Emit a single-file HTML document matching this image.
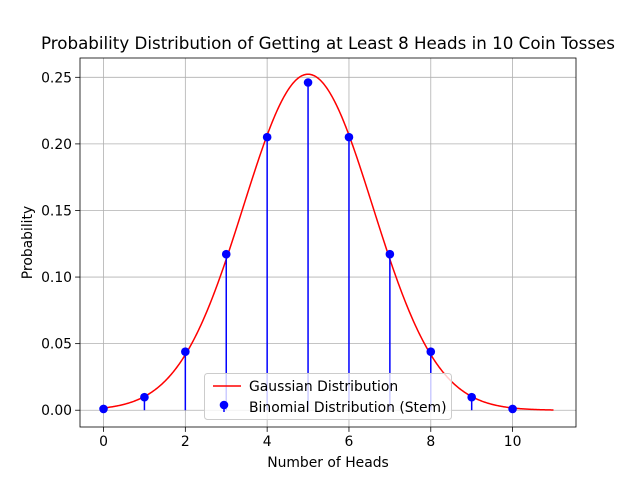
<!DOCTYPE html>
<html><head><meta charset="utf-8"><style>
body{margin:0;background:#fff}
svg{font-family:"DejaVu Sans","Liberation Sans",sans-serif}
</style></head><body>
<svg id="chart" width="640" height="480" viewBox="0 0 640 480">
<rect width="640" height="480" fill="#fff"/>
<g id="grid"></g><g id="series"></g><g id="axes"></g>
</svg>
<script>
const heads=[0,1,2,3,4,5,6,7,8,9,10];
const binomProb=[0.000977,0.009766,0.043945,0.117188,0.205078,0.246094,0.205078,0.117188,0.043945,0.009766,0.000977];
const gaussMean=5;
const gaussSigma=1.5811;
const xTicks=[0,2,4,6,8,10];
const yTicks=[0,0.05,0.10,0.15,0.20,0.25];
const yTickLabels=["0.00","0.05","0.10","0.15","0.20","0.25"];

const L=80,R=576,T=58,B=427;
const xMin=-0.575,xMax=11.55,yMin=-0.0126,yMax=0.2645;
const X=v=>L+(v-xMin)/(xMax-xMin)*(R-L);
const Y=v=>B-(v-yMin)/(yMax-yMin)*(B-T);
const NS="http://www.w3.org/2000/svg";
function mk(tag,attrs,parent,text){const e=document.createElementNS(NS,tag);for(const k in attrs)e.setAttribute(k,attrs[k]);if(text!==undefined)e.textContent=text;parent.appendChild(e);return e;}
const grid=document.getElementById('grid'),series=document.getElementById('series'),axes=document.getElementById('axes'),svg=document.getElementById('chart');

xTicks.forEach(t=>{
 const g=mk('line',{x1:X(t),x2:X(t),y1:T,y2:B,stroke:'#b0b0b0','stroke-width':0.8},grid);
 
 
 const tk=mk('line',{x1:X(t),x2:X(t),y1:B,y2:B+4.9,stroke:'#000','stroke-width':0.8},axes);
 
 
 const lb=mk('text',{x:X(t),y:B+19,'text-anchor':'middle','font-size':'13.9px'},axes,String(t));
 
 
});
yTicks.forEach((t,i)=>{
 const g=mk('line',{x1:L,x2:R,y1:Y(t),y2:Y(t),stroke:'#b0b0b0','stroke-width':0.8},grid);
 
 
 const tk=mk('line',{x1:L-4.9,x2:L,y1:Y(t),y2:Y(t),stroke:'#000','stroke-width':0.8},axes);
 
 
 const lb=mk('text',{x:L-8,y:Y(t)+5,'text-anchor':'end','font-size':'13.9px'},axes,yTickLabels[i]);
 
 
});

let d='';
for(let i=0;i<=440;i++){const x=i*11/440;const y=Math.exp(-0.5*((x-gaussMean)/gaussSigma)**2)/(gaussSigma*Math.sqrt(2*Math.PI));d+=(i?'L':'M')+X(x).toFixed(2)+','+Y(y).toFixed(2);}
const curve=mk('path',{d:d,fill:'none',stroke:'#ff0000','stroke-width':1.5},series);



heads.forEach((h,i)=>{
 const s=mk('line',{x1:X(h),x2:X(h),y1:Y(0),y2:Y(binomProb[i]),stroke:'#0000ff','stroke-width':1.5},series);
 
 
});
heads.forEach((h,i)=>{
 const c=mk('circle',{cx:X(h),cy:Y(binomProb[i]),r:4.3,fill:'#0000ff'},series);
 
 
});

const frame=mk('rect',{x:L,y:T,width:R-L,height:B-T,fill:'none',stroke:'#000','stroke-width':0.8},axes);



const title=mk('text',{x:(L+R)/2,y:49,'text-anchor':'middle','font-size':'16.7px'},svg,'Probability Distribution of Getting at Least 8 Heads in 10 Coin Tosses');


const xt=mk('text',{x:(L+R)/2,y:467,'text-anchor':'middle','font-size':'13.9px'},svg,'Number of Heads');


const yt=mk('text',{x:32,y:(T+B)/2,'text-anchor':'middle','font-size':'13.9px',transform:'rotate(-90 32 '+(T+B)/2+')'},svg,'Probability');



const lg=mk('g',{},svg);


mk('rect',{x:204.5,y:373.5,width:247,height:46,rx:3,fill:'#fff','fill-opacity':0.8,stroke:'#ccc','stroke-width':1},lg);
const e1=mk('g',{},lg);


mk('line',{x1:213,x2:241,y1:386,y2:386,stroke:'#ff0000','stroke-width':1.5},e1);
mk('text',{x:249,y:391,'font-size':'13.9px'},e1,'Gaussian Distribution');
const e2=mk('g',{},lg);


mk('line',{x1:224,x2:224,y1:408,y2:412,stroke:'#0000ff','stroke-width':1.5},e2);
mk('circle',{cx:224,cy:405,r:4.3,fill:'#0000ff'},e2);
mk('text',{x:249,y:412,'font-size':'13.9px'},e2,'Binomial Distribution (Stem)');
</script>
</body></html>
